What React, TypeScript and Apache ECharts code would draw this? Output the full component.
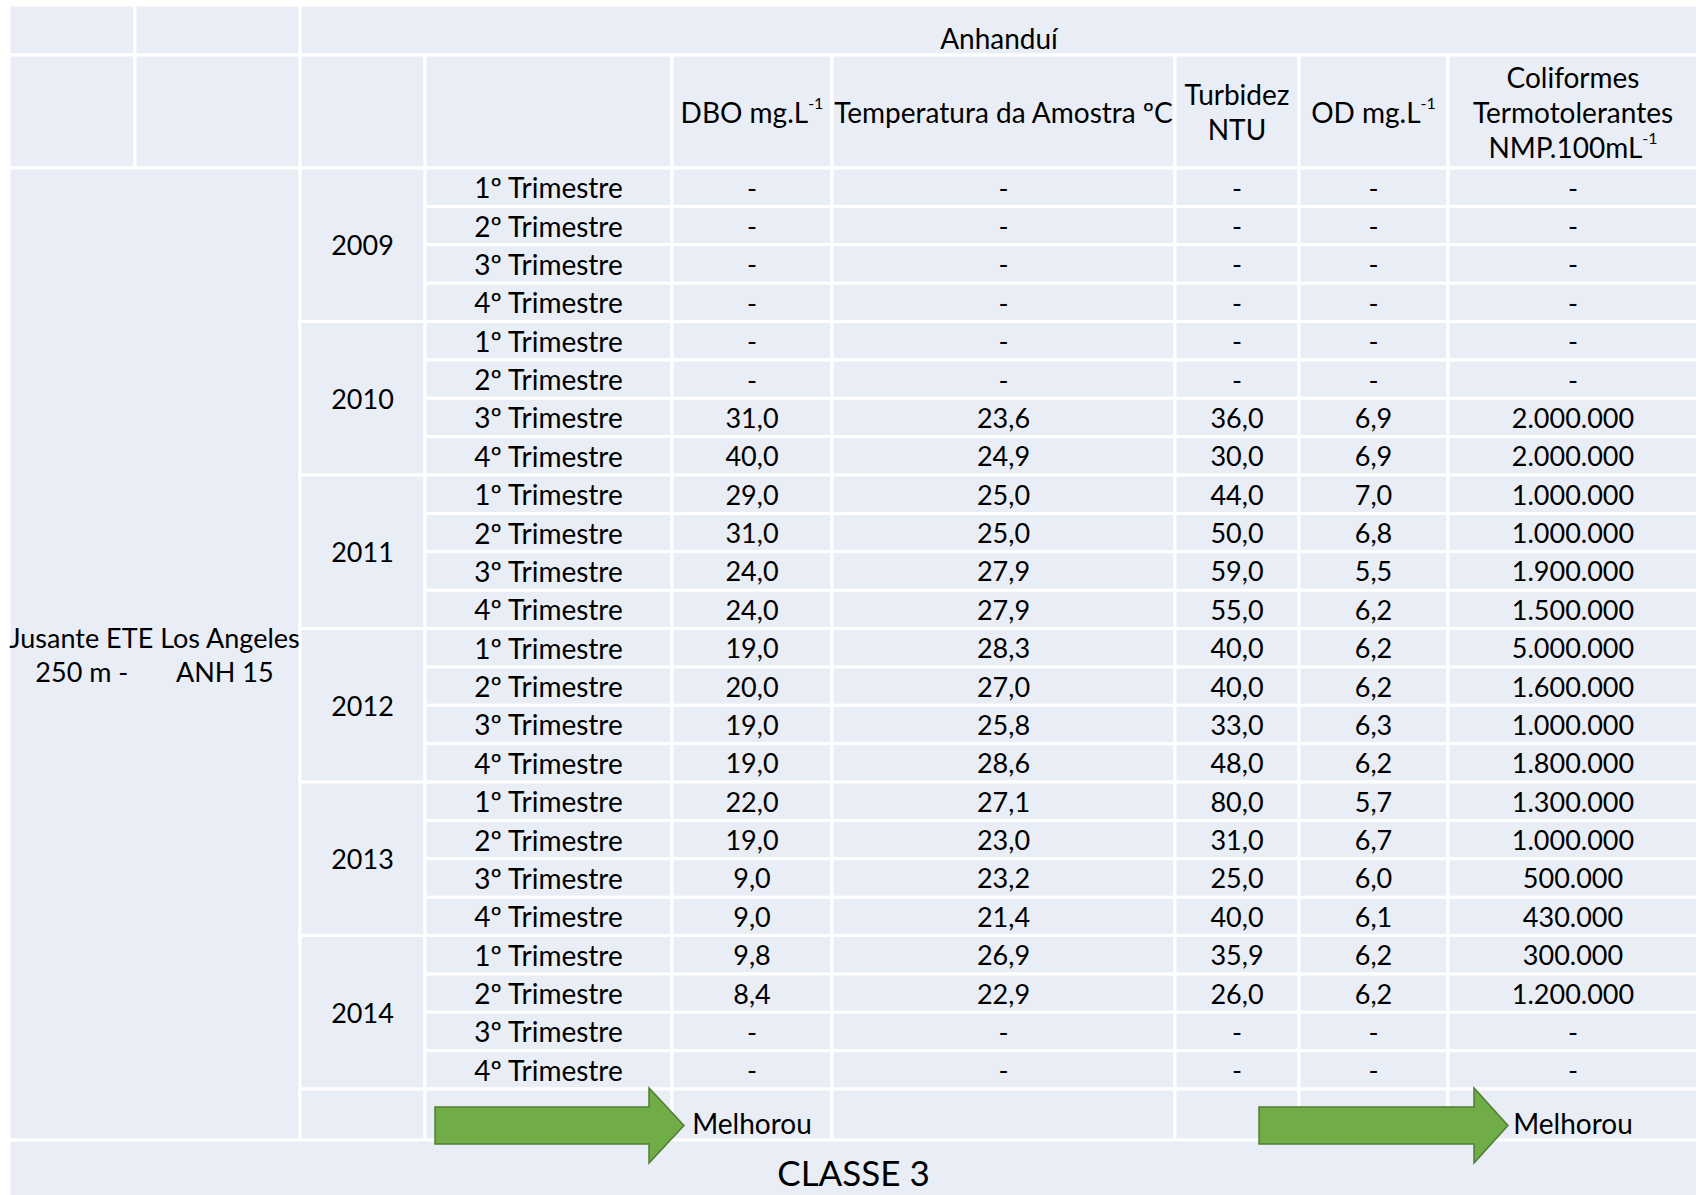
import React, { useEffect, useRef } from "react";
import * as echarts from "echarts";

// ---------- data ----------
const titulo = "Anhanduí";
const estacao = "Jusante ETE Los Angeles\n250 m -\u00A0\u00A0\u00A0\u00A0\u00A0\u00A0\u00A0ANH 15";
const anos = ["2009", "2010", "2011", "2012", "2013", "2014"];
const trimestres = ["1º Trimestre", "2º Trimestre", "3º Trimestre", "4º Trimestre"];
const cabecalhos = [
  "DBO mg.L{sup|-1}",
  "Temperatura da Amostra ºC",
  "Turbidez\nNTU",
  "OD mg.L{sup|-1}",
  "Coliformes\nTermotolerantes\nNMP.100mL{sup|-1}",
];
const dbo = [null, null, null, null, null, null, 31.0, 40.0, 29.0, 31.0, 24.0, 24.0, 19.0, 20.0, 19.0, 19.0, 22.0, 19.0, 9.0, 9.0, 9.8, 8.4, null, null];
const temperatura = [null, null, null, null, null, null, 23.6, 24.9, 25.0, 25.0, 27.9, 27.9, 28.3, 27.0, 25.8, 28.6, 27.1, 23.0, 23.2, 21.4, 26.9, 22.9, null, null];
const turbidez = [null, null, null, null, null, null, 36.0, 30.0, 44.0, 50.0, 59.0, 55.0, 40.0, 40.0, 33.0, 48.0, 80.0, 31.0, 25.0, 40.0, 35.9, 26.0, null, null];
const od = [null, null, null, null, null, null, 6.9, 6.9, 7.0, 6.8, 5.5, 6.2, 6.2, 6.2, 6.3, 6.2, 5.7, 6.7, 6.0, 6.1, 6.2, 6.2, null, null];
const coliformes = [null, null, null, null, null, null, 2000000, 2000000, 1000000, 1000000, 1900000, 1500000, 5000000, 1600000, 1000000, 1800000, 1300000, 1000000, 500000, 430000, 300000, 1200000, null, null];
const tendencia = ["", "", "Melhorou", "", "", "", "Melhorou"]; // cols 2..8 of trend row
const classe = "CLASSE 3";

// ---------- layout ----------
const W = 1696;
const H = 1195;
const BG = "#E9EDF5";
const FONT = "Lato";
const colEdges = [9, 135, 300, 425, 672, 832, 1175, 1299, 1448, 1698];
const DATA_TOP = 168;
const DATA_ROW_H = 38.375;
const rowEdges: number[] = [5, 55, DATA_TOP];
for (let i = 1; i <= 24; i++) rowEdges.push(DATA_TOP + i * DATA_ROW_H);
rowEdges.push(1140, 1197);
const arrows = [
  { x0: 435, x1: 649, tip: 684 },
  { x0: 1259, x1: 1474, tip: 1508 },
];
const ARROW_BODY = [1107, 1144];
const ARROW_HEAD = [1088, 1163];

const fmt1 = (v: number | null) => (v == null ? "-" : v.toFixed(1).replace(".", ","));
const fmtInt = (v: number | null) => (v == null ? "-" : String(v).replace(/\B(?=(\d{3})+(?!\d))/g, "."));

type Cell = { c0: number; c1: number; r0: number; r1: number; text?: string; size?: number; dy?: number; lh?: number };
const cells: Cell[] = [];
cells.push({ c0: 0, c1: 1, r0: 0, r1: 1 });
cells.push({ c0: 1, c1: 2, r0: 0, r1: 1 });
cells.push({ c0: 2, c1: 9, r0: 0, r1: 1, text: titulo, dy: 8 });
for (let c = 0; c < 4; c++) cells.push({ c0: c, c1: c + 1, r0: 1, r1: 2 });
cabecalhos.forEach((h, j) => cells.push({ c0: 4 + j, c1: 5 + j, r0: 1, r1: 2, text: h }));
cells.push({ c0: 0, c1: 2, r0: 2, r1: 27, text: estacao, lh: 34, size: 27 });
anos.forEach((a, y) => cells.push({ c0: 2, c1: 3, r0: 2 + 4 * y, r1: 6 + 4 * y, text: a, size: 27 }));
const colunas = [dbo.map(fmt1), temperatura.map(fmt1), turbidez.map(fmt1), od.map(fmt1), coliformes.map(fmtInt)];
for (let i = 0; i < 24; i++) {
  cells.push({ c0: 3, c1: 4, r0: 2 + i, r1: 3 + i, text: trimestres[i % 4] });
  colunas.forEach((col, j) => cells.push({ c0: 4 + j, c1: 5 + j, r0: 2 + i, r1: 3 + i, text: col[i], size: 27 }));
}
tendencia.forEach((t, j) => cells.push({ c0: 2 + j, c1: 3 + j, r0: 26, r1: 27, text: t, dy: 8 }));
cells.push({ c0: 0, c1: 9, r0: 27, r1: 28, text: classe, size: 35, dy: 3 });

const rich = {
  sup: { fontSize: 16, fontFamily: FONT, fill: "#000", verticalAlign: "top", lineHeight: 23 },
};

function renderCell(params: any, api: any) {
  const c = cells[params.dataIndex];
  const p0 = api.coord([colEdges[c.c0], rowEdges[c.r0]]);
  const p1 = api.coord([colEdges[c.c1], rowEdges[c.r1]]);
  const children: any[] = [
    {
      type: "rect",
      shape: { x: p0[0], y: p0[1], width: p1[0] - p0[0], height: p1[1] - p0[1] },
      style: { fill: BG, stroke: "#ffffff", lineWidth: 3 },
    },
  ];
  if (c.text) {
    children.push({
      type: "text",
      z2: 10,
      style: {
        text: c.text,
        x: (p0[0] + p1[0]) / 2,
        y: (p0[1] + p1[1]) / 2 + (c.dy || 0),
        align: "center",
        verticalAlign: "middle",
        fill: "#000",
        fontSize: c.size || 28,
        fontFamily: FONT,
        lineHeight: c.lh || 35,
        rich,
      },
    });
  }
  return { type: "group", children };
}

function renderArrow(params: any, api: any) {
  const a = arrows[params.dataIndex];
  const mid = (ARROW_HEAD[0] + ARROW_HEAD[1]) / 2;
  const pts = [
    [a.x0, ARROW_BODY[0]],
    [a.x1, ARROW_BODY[0]],
    [a.x1, ARROW_HEAD[0]],
    [a.tip, mid],
    [a.x1, ARROW_HEAD[1]],
    [a.x1, ARROW_BODY[1]],
    [a.x0, ARROW_BODY[1]],
  ].map((p) => api.coord(p));
  return {
    type: "polygon",
    shape: { points: pts },
    style: { fill: "#70AD47", stroke: "#507E32", lineWidth: 1.5 },
  };
}

export default function App() {
  const ref = useRef<HTMLDivElement>(null);
  useEffect(() => {
    const chart = echarts.init(ref.current!, undefined, { renderer: "svg" });
    chart.setOption({
      animation: false,
      grid: { left: 0, top: 0, right: 0, bottom: 0 },
      xAxis: { type: "value", min: 0, max: W, show: false },
      yAxis: { type: "value", min: 0, max: H, inverse: true, show: false },
      series: [
        {
          type: "custom",
          coordinateSystem: "cartesian2d",
          silent: true,
          clip: false,
          z: 1,
          data: cells.map((c) => [colEdges[c.c0], rowEdges[c.r0]]),
          renderItem: renderCell,
        },
        {
          type: "custom",
          coordinateSystem: "cartesian2d",
          silent: true,
          clip: false,
          z: 5,
          data: arrows.map((a) => [a.x0, ARROW_BODY[0]]),
          renderItem: renderArrow,
        },
      ],
    });
    return () => chart.dispose();
  }, []);
  return (
    <div
      ref={ref}
      style={{ position: "fixed", left: 0, top: 0, width: W, height: H, background: "#ffffff" }}
    />
  );
}
